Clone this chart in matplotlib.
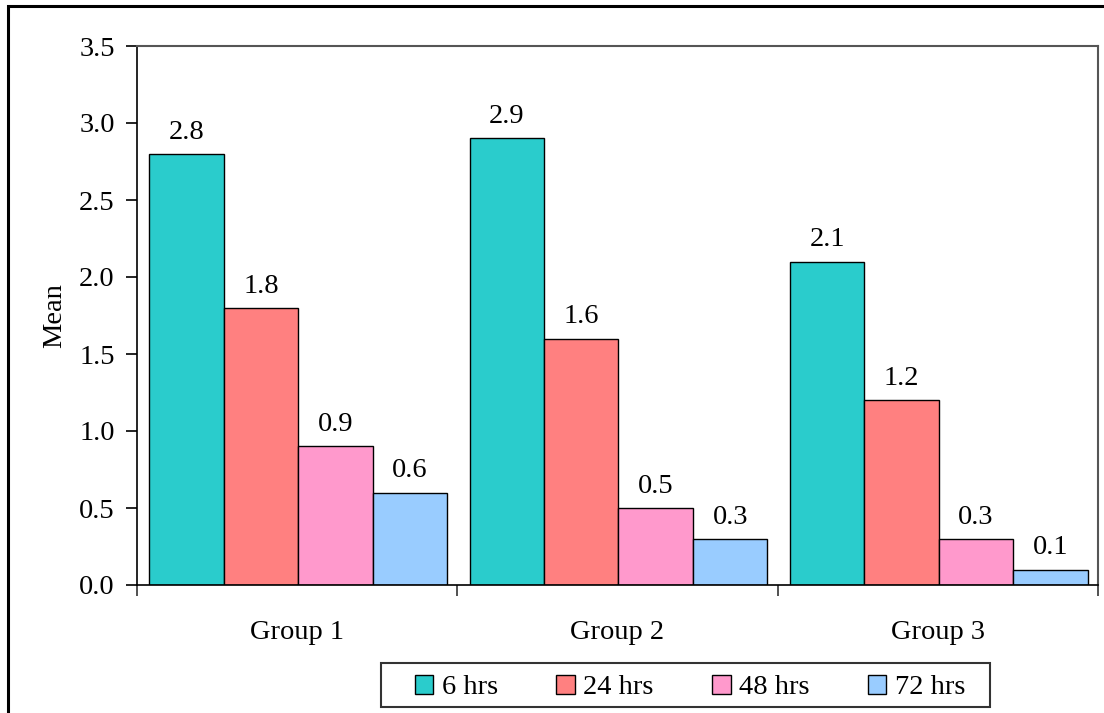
import matplotlib
matplotlib.use("Agg")
import matplotlib.pyplot as plt
from matplotlib.patches import Rectangle, Patch
import numpy as np

groups = ["Group 1", "Group 2", "Group 3"]
series = ["6 hrs", "24 hrs", "48 hrs", "72 hrs"]
values = {
    "6 hrs": [2.8, 2.9, 2.1],
    "24 hrs": [1.8, 1.6, 1.2],
    "48 hrs": [0.9, 0.5, 0.3],
    "72 hrs": [0.6, 0.3, 0.1],
}
colors = ["#2ACCCC", "#FF8080", "#FF99CC", "#99CCFF"]
yticks = [0.0, 0.5, 1.0, 1.5, 2.0, 2.5, 3.0, 3.5]

plt.rcParams["font.family"] = ["Liberation Serif", "DejaVu Serif"]
fs = 20.5
W, H = 1104, 713

fig = plt.figure(figsize=(W / 100, H / 100), dpi=100)
ax = fig.add_axes([137 / W, 1 - 585 / H, (1098 - 137) / W, (585 - 46) / H])

bw = 0.2325
x = np.arange(len(groups)) + 0.5
for i, (s, c) in enumerate(zip(series, colors)):
    pos = x + (i - 1.5) * bw + 0.003
    ax.bar(pos, values[s], width=bw, color=c, edgecolor="black", linewidth=1.0, label=s)
    for xp, v in zip(pos, values[s]):
        ax.text(xp, v + 0.06, f"{v:.1f}", ha="center", va="bottom", fontsize=fs)

ax.set_xlim(0, 3)
ax.set_ylim(0, 3.5)
ax.set_yticks(yticks)
ax.set_yticklabels([f"{t:.1f}" for t in yticks], fontsize=fs)
ax.tick_params(axis="y", direction="out", length=8, width=1.2, pad=8)

ax.set_xticks([0, 1, 2, 3])
ax.set_xticklabels([])
ax.tick_params(axis="x", direction="out", length=8, width=1.2, color="#333333")
ax.set_xticks(x, minor=True)
ax.set_xticklabels(groups, minor=True, fontsize=fs)
ax.tick_params(axis="x", which="minor", length=0, pad=25)

for side in ["left", "bottom"]:
    ax.spines[side].set_linewidth(1.2)
    ax.spines[side].set_color("black")
for side in ["top", "right"]:
    ax.spines[side].set_linewidth(1.5)
    ax.spines[side].set_color("#555555")

ax.set_ylabel("Mean", fontsize=fs, labelpad=9)

# legend entries without a frame, boxed separately for wider side margins
handles = [Patch(facecolor=c, edgecolor="black", linewidth=1.0) for c in colors]
leg = fig.legend(handles, series, loc="lower center", bbox_to_anchor=(690 / W, 4 / H),
                 ncol=4, fontsize=fs, frameon=False,
                 handlelength=0.65, handleheight=0.65, handletextpad=0.3, columnspacing=2.05,
                 borderpad=0.3, borderaxespad=0)
fig.patches.append(Rectangle((381 / W, 1 - 707 / H), (990 - 381) / W, 44 / H,
                             transform=fig.transFigure, fill=False,
                             edgecolor="#333333", linewidth=1.5))

# outer frame around the whole chart
fig.patches.append(Rectangle((8 / W, -0.1), 1.2, 1.1 - 6 / H,
                             transform=fig.transFigure, fill=False,
                             edgecolor="black", linewidth=2.2))

fig.savefig("out.png", dpi=100)
